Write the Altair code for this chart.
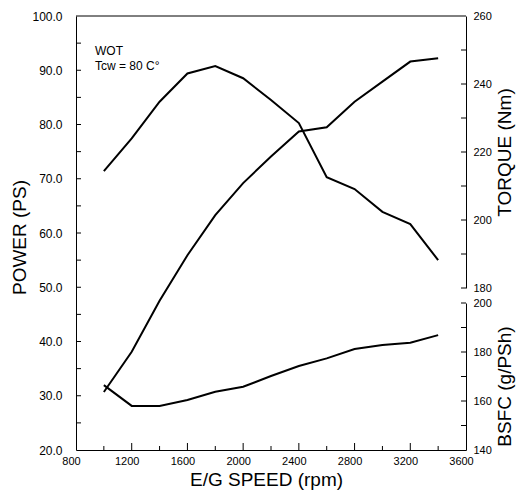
import altair as alt
import pandas as pd

# ---- data ----
rpm = [1000, 1200, 1400, 1600, 1800, 2000, 2200, 2400, 2600, 2800, 3000, 3200, 3400]
power_ps = [30.7, 38.1, 47.5, 55.9, 63.3, 69.2, 74.1, 78.7, 79.5, 84.2, 87.9, 91.6, 92.2]
torque_nm = [214.4, 224.0, 234.8, 243.1, 245.3, 241.7, 235.3, 228.5, 212.6, 209.1, 202.4, 198.8, 188.2]
bsfc_gpsh = [166.5, 158.0, 158.0, 160.4, 163.8, 165.8, 170.2, 174.3, 177.4, 181.2, 182.9, 183.8, 186.9]

x_labels = [800, 1200, 1600, 2000, 2400, 2800, 3200, 3600]
x_major_ticks = [1200, 1600, 2000, 2400, 2800, 3200]
x_minor_ticks = [1000, 1400, 1800, 2200, 2600, 3000, 3400]
power_labels = [20, 30, 40, 50, 60, 70, 80, 90, 100]
power_ticks = [25, 30, 35, 40, 45, 50, 55, 60, 65, 70, 75, 80, 85, 90, 95]
torque_labels = [180, 200, 220, 240, 260]
torque_ticks = [180, 190, 200, 210, 220, 230, 240, 250]
bsfc_labels = [140, 160, 180, 200]
bsfc_ticks = [150, 160, 170, 180, 190, 200]
notes = ["WOT", "Tcw = 80 C°"]
note_rows = [0, 1]

W, H = 390, 434
FONT = "Liberation Sans, Arial, sans-serif"

df = pd.DataFrame({"rpm": rpm, "power": power_ps, "torque": torque_nm, "bsfc": bsfc_gpsh})

xs = alt.Scale(domain=[800, 3600], nice=False, zero=False)
xaxis = alt.Axis(values=x_labels, ticks=False, labelPadding=5, labelOffset=-5, labelFlush=False,
                 grid=False, title="E/G SPEED (rpm)", titleX=190, titleY=35,
                 titleBaseline="alphabetic", format="d")

ps_scale = alt.Scale(domain=[20, 100], nice=False, zero=False)
ps_axis = alt.Axis(values=power_labels, format=".1f", ticks=False, labelPadding=14, grid=False,
                   labelFontSize=12, labelFlush=False,
                   orient="left", title="POWER (PS)", titleAngle=270, titleX=-57, titleY=221,
                   titleBaseline="middle")

tq_scale = alt.Scale(domain=[180, 260], range=[272, 0], nice=False, zero=False)
tq_axis = alt.Axis(values=torque_labels, format="d", ticks=False, labelPadding=7, grid=False,
                   labelFlush=False,
                   orient="right", title="TORQUE (Nm)", titleAngle=270, titleX=38, titleY=136,
                   titleBaseline="middle")

bs_scale = alt.Scale(domain=[140, 200], range=[434, 287], nice=False, zero=False)
bs_axis = alt.Axis(values=bsfc_labels, format="d", ticks=False, labelPadding=7, grid=False,
                   labelFlush=False,
                   orient="right", title="BSFC (g/PSh)", titleAngle=270, titleX=38, titleY=370,
                   titleBaseline="middle")

line_style = dict(color="black", strokeWidth=2)
tick_style = dict(color="black", strokeWidth=1)

# power group (with x ticks)
power_line = alt.Chart(df).mark_line(**line_style).encode(
    x=alt.X("rpm:Q", scale=xs, axis=xaxis),
    y=alt.Y("power:Q", scale=ps_scale, axis=ps_axis),
)
power_tk = alt.Chart(pd.DataFrame({"power": power_ticks})).mark_rule(**tick_style).encode(
    x=alt.value(0), x2=alt.value(5),
    y=alt.Y("power:Q", scale=ps_scale, axis=ps_axis),
)
xmaj = alt.Chart(pd.DataFrame({"rpm": x_major_ticks})).mark_rule(**tick_style).encode(
    x=alt.X("rpm:Q", scale=xs, axis=xaxis), y=alt.value(H), y2=alt.value(H - 7),
)
xmin = alt.Chart(pd.DataFrame({"rpm": x_minor_ticks})).mark_rule(**tick_style).encode(
    x=alt.X("rpm:Q", scale=xs, axis=xaxis), y=alt.value(H), y2=alt.value(H - 4),
)
power_group = alt.layer(power_line, power_tk, xmaj, xmin)

torque_line = alt.Chart(df).mark_line(**line_style).encode(
    x=alt.X("rpm:Q", scale=xs, axis=xaxis),
    y=alt.Y("torque:Q", scale=tq_scale, axis=tq_axis),
)
torque_tk = alt.Chart(pd.DataFrame({"torque": torque_ticks})).mark_rule(**tick_style).encode(
    x=alt.value(W), x2=alt.value(W - 5),
    y=alt.Y("torque:Q", scale=tq_scale, axis=tq_axis),
)
torque_group = alt.layer(torque_line, torque_tk)

bsfc_line = alt.Chart(df).mark_line(**line_style).encode(
    x=alt.X("rpm:Q", scale=xs, axis=xaxis),
    y=alt.Y("bsfc:Q", scale=bs_scale, axis=bs_axis),
)
bsfc_tk = alt.Chart(pd.DataFrame({"bsfc": bsfc_ticks})).mark_rule(**tick_style).encode(
    x=alt.value(W), x2=alt.value(W - 5),
    y=alt.Y("bsfc:Q", scale=bs_scale, axis=bs_axis),
)
bsfc_group = alt.layer(bsfc_line, bsfc_tk)

top_border = alt.Chart(pd.DataFrame({"a": [0]})).mark_rule(color="black", strokeWidth=1).encode(
    x=alt.value(0), x2=alt.value(W), y=alt.value(0)
)

note_df = pd.DataFrame({"t": notes, "i": note_rows})
note_text = alt.Chart(note_df).mark_text(
    align="left", baseline="alphabetic", font=FONT, fontSize=12, color="black"
).encode(
    text="t:N",
    x=alt.value(19),
    y=alt.Y("i:Q", scale=alt.Scale(domain=[0, 1], range=[39, 54]), axis=None),
)

chart = alt.layer(power_group, torque_group, bsfc_group, top_border, note_text).resolve_scale(
    y="independent"
).resolve_axis(y="independent").properties(
    width=W, height=H,
    autosize=alt.AutoSizeParams(type="none"),
    padding={"left": 68, "top": 8, "right": 52, "bottom": 40},
).configure_view(strokeWidth=0).configure_axis(
    labelFont=FONT, labelFontSize=11, labelColor="black",
    titleFont=FONT, titleFontSize=19, titleFontWeight="normal", titleColor="black",
    domainColor="black", domainWidth=1,
)

chart.save("out.html", embed_options={"renderer": "svg", "actions": False})
